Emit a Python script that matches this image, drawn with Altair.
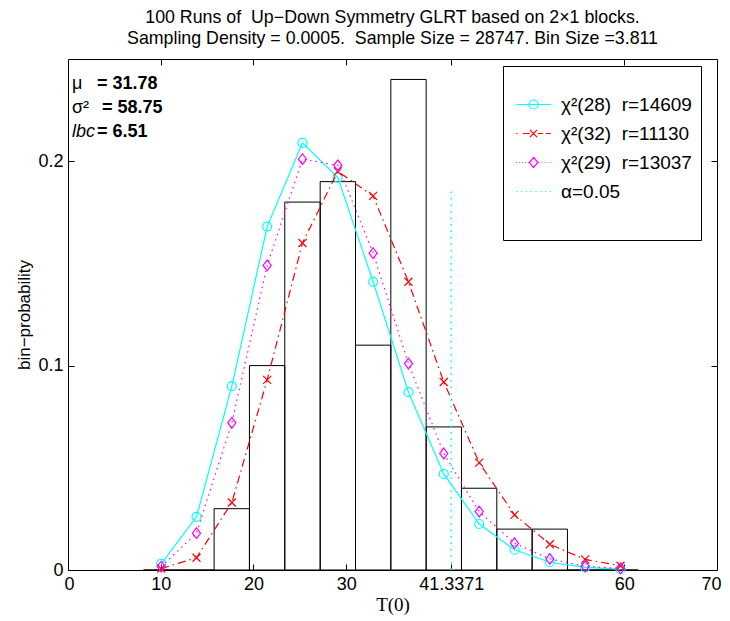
import altair as alt
import pandas as pd

# ---------------- data ----------------
title_lines = [
    "100 Runs of\u00a0\u00a0Up\u2212Down Symmetry GLRT based on 2\u00d71 blocks.",
    "Sampling Density = 0.0005.\u00a0\u00a0Sample Size = 28747. Bin Size =3.811",
]

bin_left = [8.14, 11.95, 15.76, 19.57, 23.38, 27.20, 31.01, 34.82, 38.63, 42.44, 46.25, 50.06, 53.87, 57.68]
bin_right = [11.95, 15.76, 19.57, 23.38, 27.20, 31.01, 34.82, 38.63, 42.44, 46.25, 50.06, 53.87, 57.68, 61.49]
bin_prob = [0, 0, 0.03, 0.10, 0.18, 0.19, 0.11, 0.24, 0.07, 0.04, 0.02, 0.02, 0, 0]

centers = [10.05, 13.86, 17.67, 21.48, 25.29, 29.10, 32.91, 36.72, 40.53, 44.35, 48.16, 51.97, 55.78, 59.59]
chi28 = [0.003, 0.026, 0.090, 0.168, 0.209, 0.192, 0.141, 0.087, 0.047, 0.0225, 0.0099, 0.0038, 0.0013, 0.0004]
chi32 = [0.0007, 0.006, 0.033, 0.093, 0.160, 0.195, 0.183, 0.141, 0.092, 0.0525, 0.027, 0.0126, 0.0052, 0.0021]
chi29 = [0.0017, 0.018, 0.072, 0.149, 0.201, 0.198, 0.155, 0.101, 0.057, 0.0286, 0.0131, 0.0054, 0.0018, 0.0008]

NB = "\u00a0\u00a0"
series_names = ["\u03c7\u00b2(28)" + NB + "r=14609", "\u03c7\u00b2(32)" + NB + "r=11130",
                "\u03c7\u00b2(29)" + NB + "r=13037", "\u03b1=0.05"]

alpha_x = [41.3371]
alpha_top = [0.186]

x_ticks = [0, 10, 20, 30, 41.3371, 60, 70]
y_ticks = [0, 0.1, 0.2]

stat_names = ["\u03bc", "\u03c3\u00b2", "lbc"]
stat_values = ["= 31.78", "= 58.75", "= 6.51"]

# ---------------- styling ----------------
CYAN, RED, MAG = "#00FFFF", "#FF0000", "#FF00FF"
FONT = "Liberation Sans"

x_scale = alt.Scale(domain=[0, 70], nice=False, zero=False)
y_scale = alt.Scale(domain=[0, 0.25], nice=False, zero=False)

ax_common = dict(grid=False, domain=False, tickColor="black", tickSize=6, offset=-6,
                 tickWidth=1, labelColor="black", labelFont=FONT, labelFontSize=18,
                 labelOverlap=False)

bottom_axis = alt.Axis(values=x_ticks, labelExpr="'' + datum.value", labelFlush=True,
                       labelFlushOffset=4, labelPadding=5, title="T(0)",
                       titleFont="Liberation Serif", titleFontSize=19,
                       titleFontWeight="normal", titleColor="black", titlePadding=2,
                       **ax_common)
left_axis = alt.Axis(values=y_ticks, format="~g", labelPadding=5,
                     title="bin\u2212probability", titleFont=FONT, titleFontSize=17,
                     titleFontWeight="normal", titleColor="black", titlePadding=4,
                     **ax_common)
top_axis = alt.Axis(orient="top", values=x_ticks[1:-1], labels=False, title=None, **ax_common)
right_axis = alt.Axis(orient="right", values=y_ticks[1:], labels=False, title=None, **ax_common)

# ---------------- layers ----------------
hist_df = pd.DataFrame({"x0": bin_left, "x1": bin_right, "p": bin_prob})
bars = alt.Chart(hist_df).mark_rect(fill="white", fillOpacity=0, stroke="black", strokeWidth=1).encode(
    x=alt.X("x0:Q", scale=x_scale, axis=bottom_axis),
    x2="x1:Q",
    y=alt.Y("p:Q", scale=y_scale, axis=left_axis),
    y2=alt.datum(0),
)

layers = [bars]

curve_specs = [
    (chi28, CYAN, {}, "circle", 81),
    (chi32, RED, {"strokeDash": [8, 4, 1.5, 4]}, "M-1,-1L1,1M-1,1L1,-1", 64),
    (chi29, MAG, {"strokeDash": [1.5, 4]}, "M0,-1.2L0.9,0L0,1.2L-0.9,0Z", 81),
]
for vals, col, dash, shp, sz in curve_specs:
    df = pd.DataFrame({"T": centers, "p": vals})
    enc = dict(x=alt.X("T:Q", scale=x_scale, axis=None), y=alt.Y("p:Q", scale=y_scale, axis=None))
    line = alt.Chart(df).mark_line(color=col, strokeWidth=1.2, **dash).encode(**enc)
    pts = alt.Chart(df).mark_point(shape=shp, size=sz, color=col, filled=False,
                                   strokeWidth=1.2, opacity=1).encode(**enc)
    layers += [line, pts]

alpha_df = pd.DataFrame({"x": alpha_x, "y0": [0], "y1": alpha_top})
alpha_rule = alt.Chart(alpha_df).mark_rule(color=CYAN, strokeDash=[1.5, 5], strokeWidth=1.5).encode(
    x=alt.X("x:Q", scale=x_scale, axis=top_axis),
    y=alt.Y("y0:Q", scale=y_scale, axis=right_axis),
    y2="y1:Q",
)
layers.append(alpha_rule)

# stats annotation (top-left)
name_x = [4, 4, 4]
value_x = [29, 34, 29]
for i, (nm, val) in enumerate(zip(stat_names, stat_values)):
    ypix = 30 + 24 * i
    style = "italic" if nm == "lbc" else "normal"
    t1 = alt.Chart(pd.DataFrame({"t": [nm]})).mark_text(
        align="left", baseline="alphabetic", font=FONT, fontSize=18, fontStyle=style,
        color="black").encode(text="t:N", x=alt.value(name_x[i]), y=alt.value(ypix))
    t2 = alt.Chart(pd.DataFrame({"t": [val]})).mark_text(
        align="left", baseline="alphabetic", font=FONT, fontSize=18, fontWeight="bold",
        color="black").encode(text="t:N", x=alt.value(value_x[i]), y=alt.value(ypix))
    layers += [t1, t2]

# legend symbols (custom paths: line sample + marker), unit = 6 px
def dots(a, b, step, ln=0.12):
    s, v = "", a
    while v < b:
        s += "M%.2f,0H%.2f" % (v, v + ln)
        v += step
    return s

p_cyan = "M-0.87,0H4.97M2.77,0A0.75,0.75,0,1,1,1.27,0A0.75,0.75,0,1,1,2.77,0"
p_red = ("M-0.87,0H-0.65M0.22,0H1.38M1.4,-0.6L2.6,0.6M1.4,0.6L2.6,-0.6"
         "M2.72,0H3.55M4.05,0H4.88")
p_mag = dots(-0.87, 1.15, 0.5) + "M2.02,-0.85L2.72,0L2.02,0.85L1.32,0Z" + dots(2.85, 4.97, 0.5)
p_alpha = dots(-0.87, 4.97, 0.8, 0.2)

leg_names = series_names + ["\u00a0"]          # blank last row = space under the entries
leg = alt.Legend(title="\u00a0", titleFontSize=11, titlePadding=9, orient="none",
                 legendX=435, legendY=7, strokeColor="black", fillColor="white", padding=9,
                 labelFont=FONT, labelFontSize=19, labelColor="black", symbolSize=144,
                 symbolStrokeWidth=1.2, symbolOpacity=1, rowPadding=9, labelOffset=30,
                 labelLimit=300)
leg_df = pd.DataFrame({"series": leg_names})
leg_layer = alt.Chart(leg_df).mark_point(filled=False, opacity=1).encode(
    shape=alt.Shape("series:N", scale=alt.Scale(domain=leg_names,
                                                range=[p_cyan, p_red, p_mag, p_alpha, "M0,0"]),
                    legend=leg),
    color=alt.Color("series:N", scale=alt.Scale(domain=leg_names,
                                                range=[CYAN, RED, MAG, CYAN, "white"]),
                    legend=leg),
).transform_filter("false")
layers.append(leg_layer)

chart = alt.layer(*layers).resolve_axis(x="independent", y="independent").properties(
    width=649, height=511,
    title=alt.TitleParams(text=title_lines),
    autosize=alt.AutoSizeParams(type="none"),
    padding={"left": 60, "top": 51, "right": 5, "bottom": 45},
).configure_view(stroke="black", strokeWidth=1).configure_title(
    font=FONT, fontSize=17.8, fontWeight="normal", color="black", anchor="middle",
    offset=11, lineHeight=21,
)

chart.save("out.html", embed_options={"renderer": "svg", "actions": False})
